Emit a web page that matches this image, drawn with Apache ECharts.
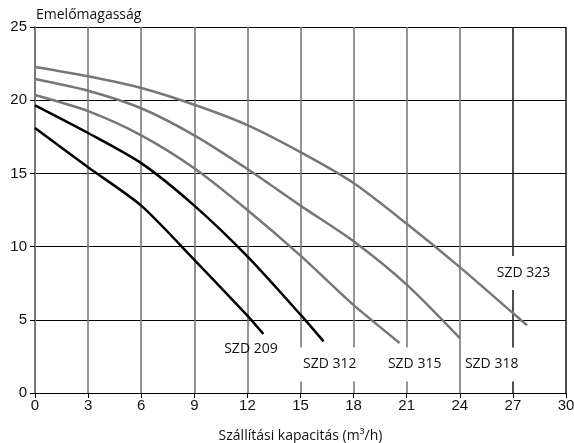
<!DOCTYPE html>
<html><head><meta charset="utf-8">
<script src="https://cdn.jsdelivr.net/npm/echarts@6/dist/echarts.min.js"></script>
<style>html,body{margin:0;padding:0;background:#fff}#c{width:574px;height:443px}</style>
</head><body><div id="c"></div>
<script>
const xTicks = [0,3,6,9,12,15,18,21,24,27,30];
const yTicks = [0,5,10,15,20,25];
const seriesNames = ['SZD 209','SZD 312','SZD 315','SZD 318','SZD 323'];
const szd209 = [[0,18.1],[3,15.42],[6,12.8],[9,9.1],[12,5.28],[12.9,4.03]];
const szd312 = [[0,19.65],[3,17.76],[6,15.7],[9,12.8],[12,9.33],[15,5.35],[16.3,3.53]];
const szd315 = [[0,20.35],[3,19.25],[6,17.6],[9,15.35],[12,12.5],[15,9.38],[18,6.0],[20.6,3.41]];
const szd318 = [[0,21.45],[3,20.65],[6,19.45],[9,17.6],[12,15.3],[15,12.8],[18,10.36],[21,7.4],[24,3.75]];
const szd323 = [[0,22.27],[3,21.63],[6,20.83],[9,19.69],[12,18.3],[15,16.45],[18,14.34],[21,11.56],[24,8.6],[27,5.46],[27.8,4.62]];
const labelPos = [[12.2,3.0],[16.65,1.95],[21.45,1.95],[25.8,1.95],[27.6,8.2]];

const dataSets = [szd209, szd312, szd315, szd318, szd323];
const colors = ['#000','#000','#777','#777','#777'];
const gridColors = xTicks.map(v => v >= 27 ? '#222' : '#7a7a7a');

const chart = echarts.init(document.getElementById('c'));
chart.setOption({
  animation:false,
  graphic:[{type:'text',x:36,y:8,
    style:{text:'Emelőmagasság',fontFamily:'Open Sans',fontSize:14,fill:'#111',align:'left',verticalAlign:'top'}}],
  grid:{left:35,right:8,top:27,bottom:50,outerBoundsMode:'none',containLabel:false},
  xAxis:{type:'value',min:0,max:30,interval:3,
    name:'Szállítási kapacitás (m³/h)',nameLocation:'middle',nameGap:36,
    nameTextStyle:{fontFamily:'Open Sans',fontSize:14,color:'#111'},
    axisLine:{show:true,lineStyle:{color:'#000',width:1.2}},
    axisTick:{show:true,inside:false,length:5,lineStyle:{color:'#000'}},
    axisLabel:{fontFamily:'Liberation Sans',fontSize:15,color:'#111',margin:5},
    splitLine:{show:true,lineStyle:{color:gridColors,width:1.6}}
  },
  yAxis:{type:'value',min:0,max:25,interval:5,
    axisLine:{show:true,lineStyle:{color:'#7a7a7a',width:2}},
    axisTick:{show:true,inside:false,length:5,lineStyle:{color:'#000'}},
    axisLabel:{fontFamily:'Liberation Sans',fontSize:15,color:'#111',margin:8},
    splitLine:{show:true,lineStyle:{color:'#000',width:1.2}}
  },
  series: dataSets.map((d,i)=>({
    name:seriesNames[i],type:'line',data:d,smooth:0.25,showSymbol:false,symbol:'none',
    lineStyle:{color:colors[i],width:2.5},
    markPoint:{symbol:'circle',symbolSize:1,itemStyle:{color:'rgba(0,0,0,0)'},
      data:[{coord:labelPos[i],value:seriesNames[i]}],
      label:{show:true,position:'inside',formatter:seriesNames[i],fontFamily:'Open Sans',fontSize:14,color:'#111',
        backgroundColor: i===0 ? 'transparent' : '#fff',padding: i===0 ? 0 : [10,3]}
    },
    z: 3
  }))
});
</script></body></html>
